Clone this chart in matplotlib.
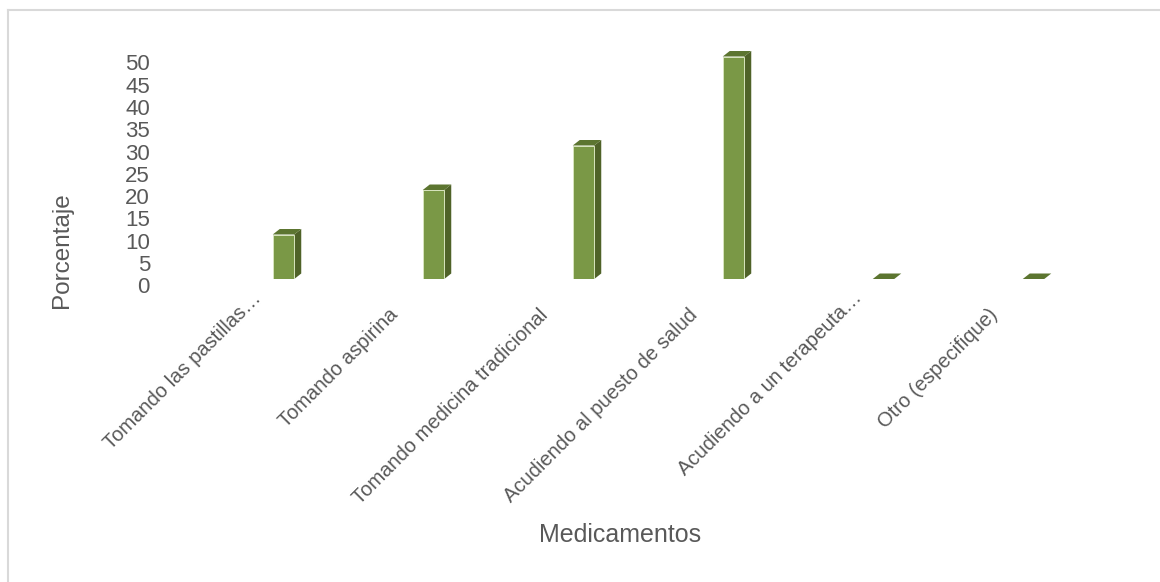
import matplotlib
matplotlib.use("Agg")
import matplotlib.pyplot as plt
from matplotlib.patches import Polygon
from matplotlib.lines import Line2D
from matplotlib.transforms import ScaledTranslation

plt.rcParams['font.family'] = ['Liberation Sans', 'DejaVu Sans']

# ---- data ----
categories = ["Tomando las pastillas…", "Tomando aspirina", "Tomando medicina tradicional",
              "Acudiendo al puesto de salud", "Acudiendo a un terapeuta…", "Otro (especifique)"]
values = [10, 20, 30, 50, 0, 0]
yticks = [0, 5, 10, 15, 20, 25, 30, 35, 40, 45, 50]
ylabel = "Porcentaje"
xlabel = "Medicamentos"

# ---- style ----
W, H, DPI = 1160, 582, 100
text_color = "#595959"
front_color = "#7A9846"
side_color = "#4F6228"
top_color = "#5C7530"
edge_color = "#D7E4BD"
depth_px = (7, 5.5)

fig = plt.figure(figsize=(W / DPI, H / DPI), dpi=DPI)
fig.patch.set_facecolor("white")

# axes placement (pixels)
ax_left, ax_right, ax_base, ax_top = 155, 1110, 279, 47.6
ax = fig.add_axes([ax_left / W, 1 - ax_base / H, (ax_right - ax_left) / W, (ax_base - ax_top) / H])
ax.set_facecolor("none")
x = list(range(len(categories)))
px_per_cat = 150
ax.set_xlim((ax_left - 283.5) / px_per_cat, (ax_right - 283.5) / px_per_cat)
ax.set_ylim(0, 52)
for s in ax.spines.values():
    s.set_visible(False)

bar_w = 21.5 / px_per_cat
bars = ax.bar(x, values, width=bar_w, color=front_color, edgecolor=edge_color,
              linewidth=0.7, zorder=3)

# depth in data units
p0 = ax.transData.transform((0, 0))
p1 = ax.transData.transform((1, 1))
ddx = depth_px[0] / (p1[0] - p0[0])
ddy = depth_px[1] / (p1[1] - p0[1])
for r in bars:
    x0 = r.get_x()
    x1 = x0 + r.get_width()
    h = r.get_height()
    side = Polygon([(x1, 0), (x1 + ddx, ddy), (x1 + ddx, h + ddy), (x1, h)],
                   closed=True, facecolor=side_color, edgecolor="none", zorder=2)
    top = Polygon([(x0, h), (x0 + ddx, h + ddy), (x1 + ddx, h + ddy), (x1, h)],
                  closed=True, facecolor=top_color, edgecolor="none", zorder=2)
    ax.add_patch(side)
    ax.add_patch(top)

# y ticks
ax.set_yticks(yticks)
ax.set_yticklabels([str(t) for t in yticks])
ax.tick_params(axis="y", length=0, pad=3.6, labelsize=16, labelcolor=text_color)
yoff = ScaledTranslation(0, -6 / DPI, fig.dpi_scale_trans)
for lab in ax.get_yticklabels():
    lab.set_transform(lab.get_transform() + yoff)

# x ticks
ax.set_xticks(x)
ax.set_xticklabels(categories, rotation=45, ha="right", va="baseline", rotation_mode="anchor")
ax.tick_params(axis="x", length=0, pad=26.6, labelsize=14.5, labelcolor=text_color)
for lab, name in zip(ax.get_xticklabels(), categories):
    if name.endswith("…"):
        off = ScaledTranslation(-21 / DPI, 17 / DPI, fig.dpi_scale_trans)
    else:
        off = ScaledTranslation(-35 / DPI, 0, fig.dpi_scale_trans)
    lab.set_transform(lab.get_transform() + off)

# axis titles
fig.text(62 / W, 1 - 250 / H, ylabel, rotation=90, ha="center", va="center",
         fontsize=17.5, color=text_color)
fig.text(620.5 / W, 1 - 535 / H, xlabel, ha="center", va="center",
         fontsize=18, color=text_color)

# chart border (left and top visible)
fig.add_artist(Line2D([8 / W, 8 / W], [0, 1 - 10 / H], color="#D9D9D9", lw=1.5,
                      transform=fig.transFigure))
fig.add_artist(Line2D([8 / W, 1], [1 - 10 / H, 1 - 10 / H], color="#D9D9D9", lw=1.5,
                      transform=fig.transFigure))

fig.savefig("out.png", dpi=DPI, facecolor="white")
